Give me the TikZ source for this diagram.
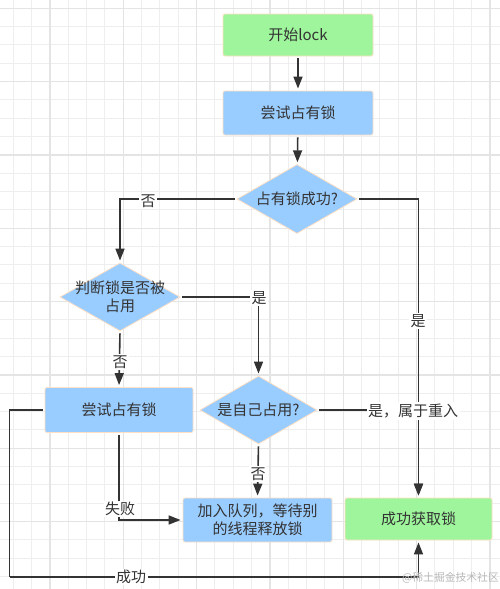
\documentclass[tikz,border=0pt]{standalone}
\usepackage{fontspec}
\setmainfont{Noto Sans CJK SC}
\usepackage{tikz}
\usetikzlibrary{shapes.geometric,arrows.meta}

\definecolor{boxgreen}{RGB}{158,245,155}
\definecolor{boxblue}{RGB}{153,204,255}
\definecolor{boxedge}{RGB}{255,224,196}
\definecolor{lineclr}{RGB}{51,51,51}
\definecolor{gridminor}{RGB}{238,238,238}
\definecolor{gridmajor}{RGB}{228,228,228}

\begin{document}
\begin{tikzpicture}[x=1pt,y=1pt,yscale=-1,xscale=1,
    every node/.style={font=\fontsize{15}{18.4}\selectfont, text=lineclr},
    stepbox/.style={draw=boxedge, line width=0.8pt, fill=boxblue, rounded corners=2pt, inner sep=0pt},
    endbox/.style={stepbox, fill=boxgreen},
    choice/.style={diamond, draw=boxedge, line width=0.8pt, fill=boxblue, inner sep=0pt},
    flow/.style={draw=lineclr, line width=1.6pt, -{Triangle[length=12pt,width=9pt]}, shorten <=2pt, shorten >=2pt},
    link/.style={draw=lineclr, line width=1.6pt, shorten <=2pt},
    tag/.style={fill=white, inner sep=1.5pt, align=center}]
        \useasboundingbox (0,0) rectangle (500,589);

        %Grid
        \fill[white] (0,0) rectangle (500,589);
        \foreach \i in {0,...,26} \draw[gridminor, line width=1pt] ({13.33+18.33*\i},0) -- ++(0,589);
        \foreach \i in {0,...,32} \draw[gridminor, line width=1pt] (0,{8.3+18.33*\i}) -- ++(500,0);
        \foreach \i in {0,...,6} \draw[gridmajor, line width=1.2pt] ({50+73.33*\i},0) -- ++(0,589);
        \foreach \i in {0,...,7} \draw[gridmajor, line width=1.2pt] (0,{8.3+73.33*\i}) -- ++(500,0);

        %Boxes
        \node[endbox, minimum width=150pt, minimum height=42pt] (start) at (298,35) {开始lock};
        \node[stepbox, minimum width=150pt, minimum height=44pt] (try) at (298,113) {尝试占有锁};
        \node[stepbox, minimum width=148pt, minimum height=45pt] (retry) at (119,410) {尝试占有锁};
        \node[stepbox, minimum width=149pt, minimum height=44pt, align=center] (queue) at (257.5,520) {加入队列，等待别\\的线程释放锁};
        \node[endbox, minimum width=147pt, minimum height=42pt] (got) at (418.5,519) {成功获取锁};

        %Diamonds
        \node[choice, minimum width=120pt, minimum height=69pt, label={[align=center]center:占有锁成功?}] (ok) at (297,199) {};
        \node[choice, minimum width=120pt, minimum height=68pt, label={[align=center]center:判断锁是否被\\占用}] (held) at (120,297) {};
        \node[choice, minimum width=117pt, minimum height=68pt, label={[align=center]center:是自己占用?}] (self) at (258.5,410) {};

        \coordinate (loop) at (9.5,577);

        %Connectors
        \draw[flow] (start) -- (try);
        \draw[flow] (try) -- (ok);
        \draw[flow] (ok.west) -| (held.north);
        \draw[flow] (ok.east) -| (got.north);
        \draw[flow] (held.east) -| (self.north);
        \draw[flow] (held.south) -- (retry.north);
        \draw[flow] (self.east) -| (got.north);
        \draw[flow] (self.south) -- (queue.north);
        \draw[flow] (retry.south) |- (queue.west);
        \draw[link] (retry.west) -| (loop);
        \draw[flow, shorten <=0pt] (loop) -| (got.south);

        % Text Node
        \node[tag] (no1) at (148,201) {否};
        \node[tag] (yes1) at (418,321) {是};
        \node[tag] (yes2) at (259,298) {是};
        \node[tag] (no2) at (120,362) {否};
        \node[tag] (yes3) at (413,411) {是，属于重入};
        \node[tag] (no3) at (258,474) {否};
        \node[tag] (fail) at (120,509) {失败};
        \node[tag] (succ) at (131,577) {成功};
        \node[anchor=east, text=gray!55, font=\fontsize{10.8}{13}\selectfont, inner sep=0pt] (mark) at (499,578) {@稀土掘金技术社区};
\end{tikzpicture}
\end{document}
